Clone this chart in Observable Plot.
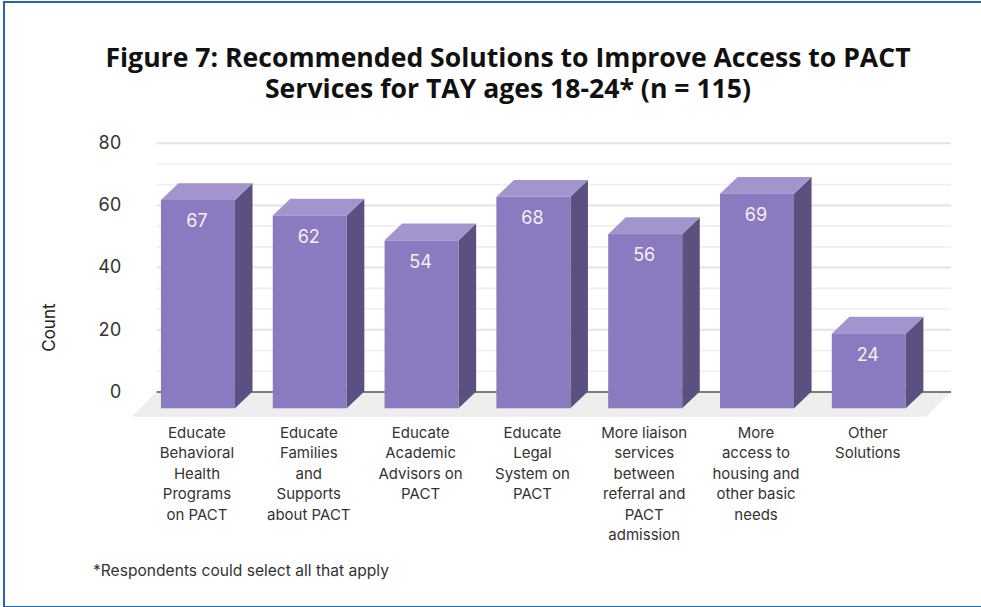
<!DOCTYPE html>
<html>
<head>
<meta charset="utf-8">
<script src="https://cdn.jsdelivr.net/npm/d3@7"></script>
<script src="https://cdn.jsdelivr.net/npm/@observablehq/plot@0.6"></script>
<style>
  html, body { margin: 0; padding: 0; background: #fff; overflow: hidden; }
  #page { position: relative; width: 981px; height: 607px; }
  #frame { position: absolute; left: 3px; top: 1px; width: 976px; height: 603px;
           border: solid #2466a8; border-width: 2px 0 2px 2px; border-right: 1px solid #cfdff0; }
  #chart { position: absolute; left: 0; top: 0; }
  #title { position: absolute; left: 8px; width: 1000px; top: 42px; text-align: center;
           font: 700 26.6px/31px "Open Sans", sans-serif; color: #111; }
  #note { position: absolute; left: 93px; top: 561px; font: 15.6px "Inter", sans-serif; color: #333; }
</style>
</head>
<body>
<div id="page">
  <div id="frame"></div>
  <div id="chart"></div>
  <div id="title">Figure 7: Recommended Solutions to Improve Access to PACT<br>Services for TAY ages 18-24* (n = 115)</div>
  <div id="note">*Respondents could select all that apply</div>
</div>
<script>
// Responses per recommended solution
const categories = [
  "Educate\nBehavioral\nHealth\nPrograms\non PACT",
  "Educate\nFamilies\nand\nSupports\nabout PACT",
  "Educate\nAcademic\nAdvisors on\nPACT",
  "Educate\nLegal\nSystem on\nPACT",
  "More liaison\nservices\nbetween\nreferral and\nPACT\nadmission",
  "More\naccess to\nhousing and\nother basic\nneeds",
  "Other\nSolutions"
];
const counts = [67, 62, 54, 68, 56, 69, 24];
const majorTicks = [0, 20, 40, 60, 80];

// Horizontal gridlines: three per labelled interval
const gridLevels = d3.range(1, 13).map((k) => (k * 20) / 3);

// Extrusion of the pseudo-3D columns, in data units
const halfWidth = 0.331;
const depthX = 0.157;
const depthY = 5.4;
const xMin = -0.369;
const xMax = 6.735;
const floorY = -8.1;
const floorShift = 0.224;

const bars = counts.map((value, i) => ({
  i,
  value,
  label: categories[i],
  left: i - halfWidth,
  right: i + halfWidth,
  top: value - depthY
}));

const font = "Inter, sans-serif";

// One parallelogram per column, so each face is its own series
const sideFace = bars.flatMap((b) => [
  {i: b.i, x: b.right, y1: -depthY, y2: b.top},
  {i: b.i, x: b.right + depthX, y1: 0, y2: b.value}
]);
const topFace = bars.flatMap((b) => [
  {i: b.i, y: b.top, x1: b.left, x2: b.right},
  {i: b.i, y: b.value, x1: b.left + depthX, x2: b.right + depthX}
]);
const floor = [
  {y: 0, x1: xMin, x2: xMax},
  {y: floorY, x1: xMin - floorShift, x2: xMax - floorShift}
];

const plot = Plot.plot({
  width: 981,
  height: 607,
  marginLeft: 121,
  marginRight: 0,
  marginTop: 0,
  marginBottom: 0,
  style: {background: "transparent", fontFamily: font},
  x: {type: "linear", domain: [xMin, xMax], range: [156.7, 951], axis: null},
  y: {domain: [0, 80], range: [391.5, 142.7], axis: null},
  marks: [
    Plot.ruleY(gridLevels, {
      x1: xMin, x2: xMax, stroke: (d) => (majorTicks.includes(Math.round(d)) ? "#e4e4e4" : "#efefef"),
      strokeWidth: (d) => (majorTicks.includes(Math.round(d)) ? 2 : 1.6)
    }),
    Plot.areaX(floor, {y: "y", x1: "x1", x2: "x2", fill: "#eeeeee"}),
    Plot.ruleY([0], {x1: xMin, x2: xMax, stroke: "#7b7b7b", strokeWidth: 2}),
    Plot.axisY({
      ticks: majorTicks, tickSize: 0, tickPadding: 0, anchor: "left", label: null,
      fontSize: 18, fontFamily: font, fill: "#333"
    }),
    Plot.text(["Count"], {
      x: -1.333, y: 20.7, rotate: -90, fontSize: 17, fontFamily: font, fill: "#222"
    }),
    Plot.areaY(sideFace, {x: "x", y1: "y1", y2: "y2", z: "i", fill: "#5c5080"}),
    Plot.areaX(topFace, {y: "y", x1: "x1", x2: "x2", z: "i", fill: "#a494cd"}),
    Plot.rect(bars, {x1: "left", x2: "right", y1: -depthY, y2: "top", fill: "#8b7abf"}),
    Plot.text(bars, {
      x: "i", y: "top", text: (d) => String(d.value), dx: -1.5, dy: 21,
      fontSize: 18, fontFamily: font, fill: "#f3f1f8"
    }),
    Plot.text(bars, {
      x: "i", y: -depthY, text: "label", dx: -1.5, dy: 14.5, lineAnchor: "top",
      lineHeight: 1.365, fontSize: 15, fontFamily: font, fill: "#333"
    })
  ]
});
document.getElementById("chart").append(plot);
</script>
</body>
</html>
